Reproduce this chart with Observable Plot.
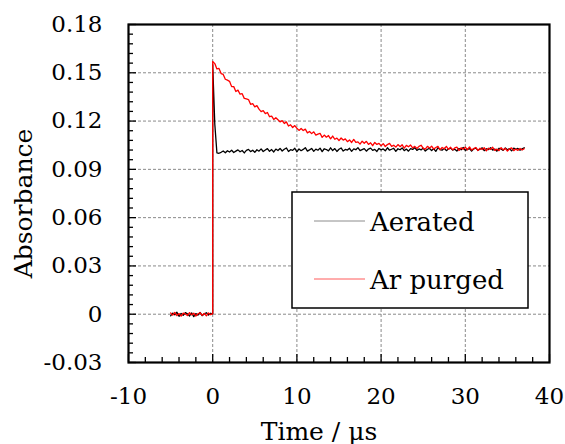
<!DOCTYPE html>
<html><head><meta charset="utf-8">
<script src="https://cdn.jsdelivr.net/npm/d3@7"></script>
<script src="https://cdn.jsdelivr.net/npm/@observablehq/plot@0.6"></script>
<style>body{margin:0;background:#fff;} svg{display:block}</style>
</head><body><div id="chart"></div>
<script>
// Time axis (µs)
const time = [
-5,-4.75,-4.5,-4.25,-4,-3.75,-3.5,-3.25,-3,-2.75,-2.5,-2.25,-2,-1.75,-1.5,-1.25,-1,-0.75,-0.5,-0.25,0,0,
0.25,0.5,0.75,1,1.25,1.5,1.75,2,
2.25,2.5,2.75,3,3.25,3.5,3.75,4,
4.25,4.5,4.75,5,5.25,5.5,5.75,6,
6.25,6.5,6.75,7,7.25,7.5,7.75,8,
8.25,8.5,8.75,9,9.25,9.5,9.75,10,
10.25,10.5,10.75,11,11.25,11.5,11.75,12,
12.25,12.5,12.75,13,13.25,13.5,13.75,14,
14.25,14.5,14.75,15,15.25,15.5,15.75,16,
16.25,16.5,16.75,17,17.25,17.5,17.75,18,
18.25,18.5,18.75,19,19.25,19.5,19.75,20,
20.25,20.5,20.75,21,21.25,21.5,21.75,22,
22.25,22.5,22.75,23,23.25,23.5,23.75,24,
24.25,24.5,24.75,25,25.25,25.5,25.75,26,
26.25,26.5,26.75,27,27.25,27.5,27.75,28,
28.25,28.5,28.75,29,29.25,29.5,29.75,30,
30.25,30.5,30.75,31,31.25,31.5,31.75,32,
32.25,32.5,32.75,33,33.25,33.5,33.75,34,
34.25,34.5,34.75,35,35.25,35.5,35.75,36,
36.25,36.5,36.75,37];

// Aerated (black)
const aerated = [
-0.0010,0.0007,-0.0004,0.0012,-0.0013,0.0005,-0.0007,0.0010,0.0002,-0.0011,0.0008,-0.0015,0.0004,-0.0006,0.0011,-0.0009,0.0003,0.0009,-0.0005,0.0006,0.0002,0.1550,
0.1180,0.1003,0.1000,0.1006,0.1014,0.1003,0.1016,0.1008,
0.1019,0.1005,0.1013,0.1021,0.1009,0.1017,0.1002,0.1018,
0.1024,0.1010,0.1019,0.1006,0.1022,0.1013,0.1027,0.1011,
0.1020,0.1029,0.1012,0.1023,0.1008,0.1026,0.1017,0.1030,
0.1014,0.1025,0.1033,0.1011,0.1022,0.1018,0.1031,0.1009,
0.1027,0.1016,0.1024,0.1035,0.1013,0.1021,0.1030,0.1012,
0.1026,0.1019,0.1032,0.1010,0.1028,0.1023,0.1015,0.1034,
0.1017,0.1029,0.1011,0.1025,0.1033,0.1014,0.1024,0.1020,
0.1031,0.1012,0.1027,0.1022,0.1035,0.1016,0.1023,0.1029,
0.1013,0.1026,0.1032,0.1018,0.1024,0.1011,0.1030,0.1021,
0.1027,0.1015,0.1034,0.1019,0.1025,0.1031,0.1012,0.1028,
0.1022,0.1033,0.1016,0.1026,0.1013,0.1029,0.1024,0.1035,
0.1018,0.1027,0.1021,0.1032,0.1014,0.1025,0.1030,0.1017,
0.1028,0.1012,0.1034,0.1023,0.1019,0.1031,0.1016,0.1026,
0.1033,0.1020,0.1025,0.1014,0.1030,0.1022,0.1036,0.1018,
0.1024,0.1029,0.1013,0.1027,0.1032,0.1019,0.1025,0.1034,
0.1016,0.1028,0.1023,0.1035,0.1020,0.1026,0.1013,0.1031,
0.1027,0.1018,0.1033,0.1022,0.1029,0.1015,0.1032,0.1024,
0.1030,0.1019,0.1027,0.1034];

// Ar purged (red)
const arPurged = [
0.0008,-0.0006,0.0011,-0.0009,0.0004,-0.0012,0.0007,0.0002,-0.0008,0.0010,-0.0004,0.0006,-0.0011,0.0003,0.0009,-0.0007,0.0005,-0.0010,0.0008,-0.0003,0.0004,0.1570,
0.1557,0.1524,0.1527,0.1495,0.1490,0.1460,0.1454,0.1447,
0.1414,0.1414,0.1384,0.1392,0.1367,0.1370,0.1341,0.1338,
0.1334,0.1304,0.1308,0.1288,0.1296,0.1274,0.1259,0.1265,
0.1246,0.1253,0.1227,0.1231,0.1210,0.1221,0.1208,0.1195,
0.1203,0.1185,0.1195,0.1169,0.1177,0.1160,0.1172,0.1155,
0.1142,0.1154,0.1141,0.1150,0.1127,0.1135,0.1122,0.1133,
0.1113,0.1119,0.1124,0.1099,0.1113,0.1100,0.1110,0.1090,
0.1107,0.1087,0.1094,0.1079,0.1095,0.1082,0.1089,0.1072,
0.1083,0.1067,0.1086,0.1068,0.1071,0.1057,0.1075,0.1062,
0.1074,0.1055,0.1065,0.1047,0.1067,0.1055,0.1061,0.1046,
0.1060,0.1042,0.1054,0.1061,0.1043,0.1050,0.1038,0.1054,
0.1041,0.1053,0.1032,0.1049,0.1040,0.1051,0.1033,0.1043,
0.1030,0.1043,0.1050,0.1031,0.1026,0.1043,0.1032,0.1044,
0.1026,0.1036,0.1043,0.1022,0.1036,0.1027,0.1043,0.1024,
0.1037,0.1021,0.1033,0.1038,0.1017,0.1034,0.1025,0.1038,
0.1022,0.1039,0.1020,0.1029,0.1036,0.1017,0.1031,0.1023,
0.1034,0.1015,0.1031,0.1024,0.1037,0.1018,0.1026,0.1016,
0.1035,0.1021,0.1030,0.1014,0.1027,0.1033,0.1016,0.1026,
0.1018,0.1030,0.1020,0.1028];

const seriesNames = ["Aerated", "Ar purged"];
const xTicks = [-10, 0, 10, 20, 30, 40];
const xTickLabels = ["-10", "0", "10", "20", "30", "40"];
const xMinor = [-8,-6,-4,-2,2,4,6,8,12,14,16,18,22,24,26,28,32,34,36,38];
const yTicks = [-0.03, 0, 0.03, 0.06, 0.09, 0.12, 0.15, 0.18];
const yTickLabels = ["-0.03", "0", "0.03", "0.06", "0.09", "0.12", "0.15", "0.18"];
const yMinor = [-0.024,-0.018,-0.012,-0.006,0.006,0.012,0.018,0.024,0.036,0.042,0.048,0.054,0.066,0.072,0.078,0.084,0.096,0.102,0.108,0.114,0.126,0.132,0.138,0.144,0.156,0.162,0.168,0.174];
const xTitle = "Time / μs";
const yTitle = "Absorbance";

const W = 565, H = 444, mL = 128, mR = 16, mT = 24, mB = 82;
const plotW = W - mL - mR, plotH = H - mT - mB;
const rows = time.map((t, i) => ({t, a: aerated[i], r: arPurged[i]}));
const font = "DejaVu Serif";
const gridStyle = {stroke: "#8a8a8a", strokeOpacity: 1, strokeWidth: 1, strokeDasharray: "3,2"};

const chart = Plot.plot({
  width: W, height: H,
  marginLeft: mL, marginRight: mR, marginTop: mT, marginBottom: mB,
  style: {fontFamily: font, background: "#fff", color: "#000", overflow: "visible"},
  x: {domain: [-10, 40]},
  y: {domain: [-0.03, 0.18]},
  marks: [
    Plot.gridX(xTicks.slice(1, -1), gridStyle),
    Plot.gridY(yTicks.slice(1, -1), gridStyle),
    Plot.ruleX(xMinor, {x: d => d, insetTop: plotH - 5, stroke: "#000", strokeWidth: 1.3}),
    Plot.ruleX(xTicks, {x: d => d, insetTop: plotH - 8, stroke: "#000", strokeWidth: 1.3}),
    Plot.ruleY(yMinor, {y: d => d, insetRight: plotW - 5, stroke: "#000", strokeWidth: 1.3}),
    Plot.ruleY(yTicks, {y: d => d, insetRight: plotW - 8, stroke: "#000", strokeWidth: 1.3}),
    Plot.line(rows, {x: "t", y: "a", stroke: "#000", strokeWidth: 1.3}),
    Plot.line(rows, {x: "t", y: "r", stroke: "#ff0000", strokeWidth: 1.3}),
    Plot.frame({stroke: "#000", strokeWidth: 2.2}),
    Plot.axisX(xTicks, {tickSize: 0, tickPadding: 25, fontSize: 23, label: null,
      tickFormat: d => xTickLabels[xTicks.indexOf(d)]}),
    Plot.axisY(yTicks, {tickSize: 0, tickPadding: 26, fontSize: 23, label: null,
      tickFormat: d => yTickLabels[yTicks.indexOf(d)]}),
    Plot.text([xTitle], {frameAnchor: "bottom", lineAnchor: "bottom", dx: -20, dy: 77, fontSize: 25}),
    Plot.text([yTitle], {frameAnchor: "left", textAnchor: "middle", lineAnchor: "middle",
      rotate: -90, dx: -105, dy: 10, fontSize: 25})
  ]
});

// Legend box inside the plot area
const svg = d3.select(chart);
const lg = svg.append("g").attr("font-family", font).attr("font-size", 26).attr("text-anchor", "start");
lg.append("rect").attr("x", 292).attr("y", 192).attr("width", 236).attr("height", 116)
  .attr("fill", "#fff").attr("stroke", "#000").attr("stroke-width", 1.5);
const legendColors = ["#8c8c8c", "#ff5a5a"];
seriesNames.forEach((name, i) => {
  const cy = 221 + i * 58;
  lg.append("line").attr("x1", 314).attr("x2", 365).attr("y1", cy).attr("y2", cy)
    .attr("stroke", legendColors[i]).attr("stroke-width", 1);
  lg.append("text").attr("x", 370).attr("y", cy + 9.5).attr("fill", "#000")
    .attr("text-anchor", "start").text(name);
});

document.getElementById("chart").appendChild(chart);
</script>
</body></html>
